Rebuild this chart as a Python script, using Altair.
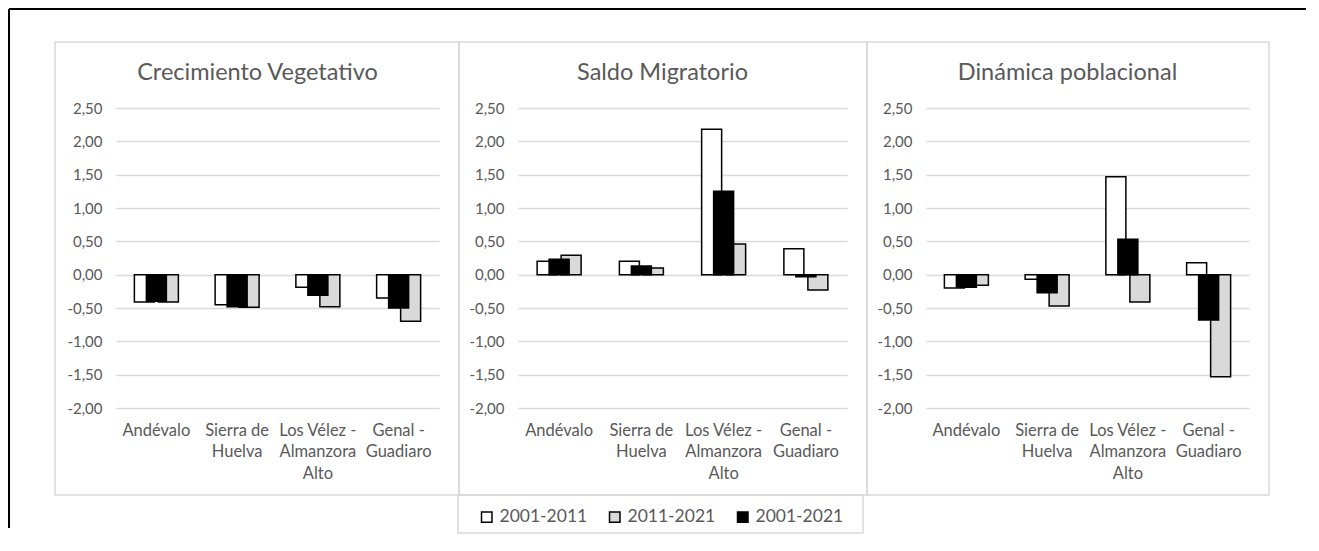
import altair as alt
import pandas as pd

# ---------------- data ----------------
categories = ["Andévalo", "Sierra de\nHuelva", "Los Vélez -\nAlmanzora\nAlto", "Genal -\nGuadiaro"]
series_names = ["2001-2011", "2011-2021", "2001-2021"]
series_fills = ["#ffffff", "#d9d9d9", "#000000"]
panel_titles = ["Crecimiento Vegetativo", "Saldo Migratorio", "Dinámica poblacional"]
y_ticks = [2.5, 2.0, 1.5, 1.0, 0.5, 0.0, -0.5, -1.0, -1.5, -2.0]

crec_2001_2011 = [-0.41, -0.45, -0.19, -0.35]
crec_2011_2021 = [-0.41, -0.49, -0.48, -0.70]
crec_2001_2021 = [-0.40, -0.48, -0.31, -0.50]

saldo_2001_2011 = [0.20, 0.20, 2.18, 0.39]
saldo_2011_2021 = [0.29, 0.10, 0.46, -0.23]
saldo_2001_2021 = [0.23, 0.13, 1.25, -0.03]

din_2001_2011 = [-0.20, -0.07, 1.47, 0.18]
din_2011_2021 = [-0.16, -0.47, -0.41, -1.53]
din_2001_2021 = [-0.19, -0.27, 0.53, -0.68]

panel_values = [
    [crec_2001_2011, crec_2011_2021, crec_2001_2021],
    [saldo_2001_2011, saldo_2011_2021, saldo_2001_2021],
    [din_2001_2011, din_2011_2021, din_2001_2021],
]

rows = []
for ptitle, vals in zip(panel_titles, panel_values):
    for s, serie in zip(series_names, vals):
        for c, v in zip(categories, serie):
            rows.append({"panel": ptitle, "series": s, "region": c, "value": v})
df = pd.DataFrame(rows)
one = pd.DataFrame({"k": [0]})

FONT = "Lato"
TXT = "#595959"
GRID = "#d9d9d9"
H = 300
widths = [323, 329, 323]
lefts = [-61, -59, -59]
offsets = {"2001-2011": -12, "2011-2021": 12, "2001-2021": 0}

fill_enc = alt.Fill(
    "series:N",
    scale=alt.Scale(domain=series_names, range=series_fills),
    legend=alt.Legend(
        orient="none", legendX=362, legendY=400, direction="horizontal",
        title=None, symbolType="square", symbolSize=110,
        symbolStrokeColor="black", symbolStrokeWidth=1.5,
        labelFont=FONT, labelFontSize=17.5, labelColor=TXT,
        columnPadding=18, labelOffset=4, padding=0,
    ),
)


def make_panel(i):
    W = widths[i]
    base = alt.Chart(df).transform_filter(alt.datum.panel == panel_titles[i])
    x = alt.X(
        "region:N", sort=categories,
        scale=alt.Scale(domain=categories, paddingInner=0, paddingOuter=0),
        axis=alt.Axis(
            title=None, labelExpr="split(datum.label, '\\n')", labelAngle=0,
            domain=False, ticks=False, labelPadding=14, labelFont=FONT,
            labelFontSize=16.5, labelColor=TXT, labelLineHeight=21.5,
            labelLimit=300, labelOverlap=False, grid=False,
        ),
    )
    y = alt.Y(
        "value:Q",
        scale=alt.Scale(domain=[-2, 2.5], nice=False),
        axis=alt.Axis(
            title=None, values=y_ticks,
            labelExpr="replace(replace(format(datum.value, '.2f'), '.', ','), '\u2212', '-')",
            domain=False, ticks=False, labelPadding=14, grid=True,
            gridColor=GRID, gridWidth=1.5, labelFont=FONT, labelFontSize=15,
            labelColor=TXT,
        ),
    )
    layers = []
    frame = alt.Chart(one).mark_rect(
        fill="white", fillOpacity=0, stroke=GRID, strokeWidth=1.5
    ).encode(
        x=alt.value(lefts[i]), x2=alt.value(W + 20),
        y=alt.value(-66), y2=alt.value(387),
    )
    layers.append(frame)
    if i == 0:
        vline = alt.Chart(one).mark_rule(color="black", strokeWidth=2).encode(
            x=alt.value(-107), y=alt.value(-99), y2=alt.value(420)
        )
        hline = alt.Chart(one).mark_rule(color="black", strokeWidth=2).encode(
            x=alt.value(-107), x2=alt.value(1190), y=alt.value(-99)
        )
        layers += [vline, hline]
    if i == 1:
        legbox = alt.Chart(one).mark_rect(
            fill="white", fillOpacity=0, stroke=GRID, strokeWidth=1.5
        ).encode(
            x=alt.value(-60), x2=alt.value(345), y=alt.value(387), y2=alt.value(425)
        )
        layers.append(legbox)
    for s in ["2001-2011", "2011-2021", "2001-2021"]:
        layers.append(
            base.transform_filter(alt.datum.series == s)
            .mark_bar(size=20, xOffset=offsets[s], stroke="black", strokeWidth=1.5)
            .encode(x=x, y=y, fill=fill_enc)
        )
    title = alt.Chart(one).mark_text(
        text=panel_titles[i], font=FONT, fontSize=23.5, color=TXT,
        align="center", baseline="middle",
    ).encode(x=alt.value(W / 2 - 20), y=alt.value(-35))
    layers.append(title)
    return alt.layer(*layers).properties(width=W, height=H)


chart = (
    alt.hconcat(make_panel(0), make_panel(1), make_panel(2), spacing=79, bounds="flush")
    .resolve_scale(fill="shared")
    .properties(padding=0, background="white")
    .configure_view(strokeWidth=0)
)

chart.save("out.html", embed_options={"renderer": "svg", "actions": False})
